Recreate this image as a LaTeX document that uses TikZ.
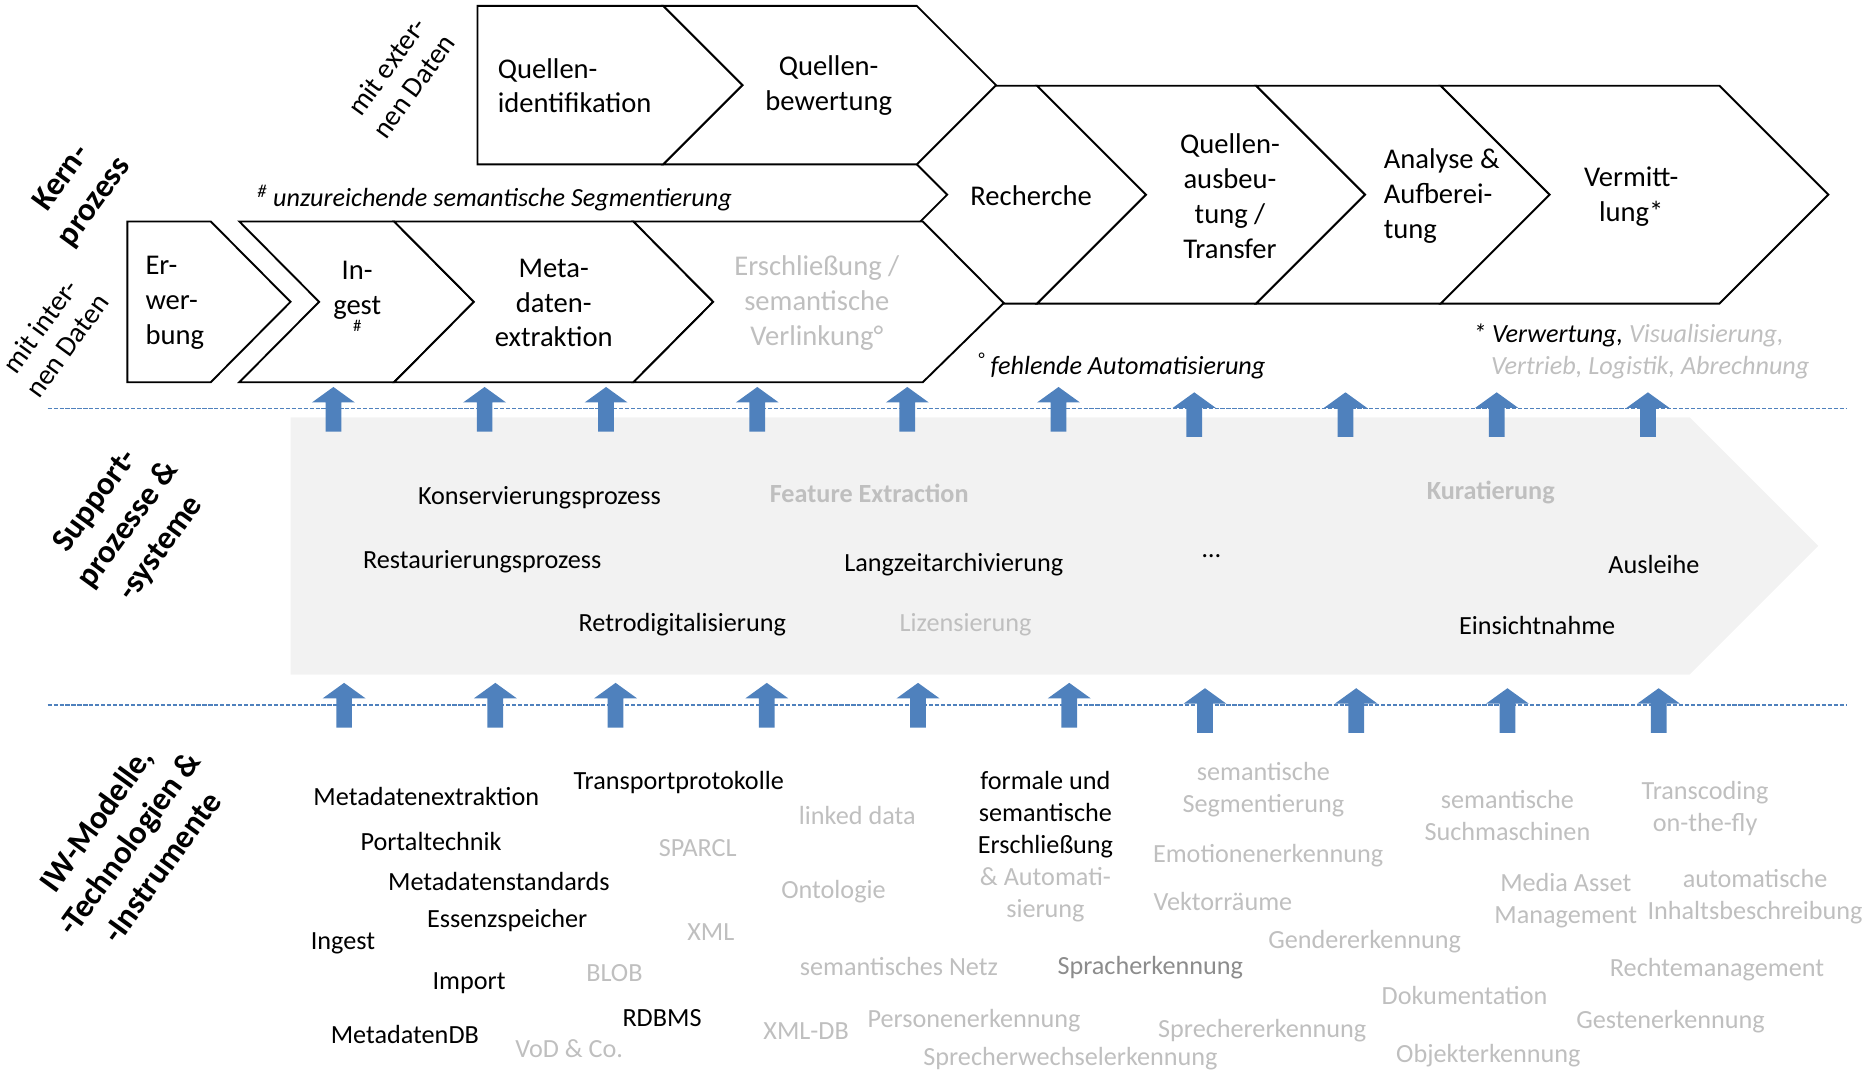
\documentclass[tikz,border=0pt]{standalone}
\usepackage{fontspec}
\setmainfont{Carlito}
\definecolor{arrowblue}{HTML}{4F81BD}
\definecolor{lg}{HTML}{BFBFBF}
\definecolor{mg}{HTML}{8C8C8C}
\definecolor{supportfill}{HTML}{F2F2F2}
\begin{document}
\begin{tikzpicture}[x=1pt,y=-1pt,
  chev/.style={draw=black, line width=1.6pt, fill=white, line join=miter},
  boxtxt/.style={font=\fontsize{24}{29.3}\selectfont, align=center, inner sep=0pt},
  txt/.style={font=\fontsize{22}{26.8}\selectfont, align=center, inner sep=0pt},
  gtxt/.style={txt, text=lg},
  note/.style={font=\fontsize{22}{26.8}\selectfont\itshape, inner sep=0pt, anchor=west},
  sidelbl/.style={font=\fontsize{27.5}{34}\selectfont\bfseries, align=center, rotate=54, inner sep=0pt},
  sidesub/.style={font=\fontsize{24}{28}\selectfont, align=center, rotate=54, inner sep=0pt},
  sepline/.style={arrowblue, dash pattern=on 3.5pt off 1.5pt, line width=1.4pt},
  blockup/.pic={\fill[arrowblue] (-6.6,0) -- (-6.6,-24.5) -- (-18,-24.5) -- (0,-37.5) -- (18,-24.5) -- (6.6,-24.5) -- (6.6,0) -- cycle;}
]
\useasboundingbox (0,0) rectangle (1568,901);

% support process arrow
\fill[supportfill] (244,350.5) -- (1419,350.5) -- (1527,458.5) -- (1419,566.5) -- (244,566.5) -- cycle;

% separators
\coordinate (d1a) at (40,343);
\coordinate (d1b) at (1551,343);
\coordinate (d2a) at (40,592);
\coordinate (d2b) at (1551,592);
\draw[sepline] (d1a) -- (d1b);
\draw[sepline] (d2a) -- (d2b);

% core process: main row
\draw[chev] (704,72) -- (871,72) -- (962.5,163.5) -- (871,255) -- (704,255) -- (795.5,163.5) -- cycle;
\draw[chev] (871,72) -- (1055,72) -- (1146.5,163.5) -- (1055,255) -- (871,255) -- (962.5,163.5) -- cycle;
\draw[chev] (1055,72) -- (1210,72) -- (1301.5,163.5) -- (1210,255) -- (1055,255) -- (1146.5,163.5) -- cycle;
\draw[chev] (1210,72) -- (1444,72) -- (1535.5,163.5) -- (1444,255) -- (1210,255) -- (1301.5,163.5) -- cycle;
% external row
\draw[chev] (557,5) -- (770,5) -- (836.5,71.5) -- (770,138) -- (557,138) -- (623.5,71.5) -- cycle;
\draw[chev] (401,5) -- (557,5) -- (623.5,71.5) -- (557,138) -- (401,138) -- cycle;
% internal row
\draw[chev] (107,186) -- (177,186) -- (244,253.5) -- (177,321) -- (107,321) -- cycle;
\draw[chev] (201,186) -- (331,186) -- (398,253.5) -- (331,321) -- (201,321) -- (268,253.5) -- cycle;
\draw[chev] (331,186) -- (532,186) -- (599,253.5) -- (532,321) -- (331,321) -- (398,253.5) -- cycle;
\draw[chev] (532,186) -- (775,186) -- (843,254.5) -- (775,321) -- (532,321) -- (599,253.5) -- cycle;

% box texts
\node[boxtxt, align=left, anchor=west] (qid) at (418,72) {Quellen-\\identifikation};
\node[boxtxt] (qbw) at (696,72) {Quellen-\\bewertung};
\node[boxtxt] (rech) at (866,164) {Recherche};
\node[boxtxt] (qaus) at (1033,164.5) {Quellen-\\ausbeu-\\tung /\\Transfer};
\node[boxtxt, align=left, anchor=west] (anal) at (1162,164.5) {Analyse \&\\Aufberei-\\tung};
\node[boxtxt] (verm) at (1370,165) {Vermitt-\\lung*};
\node[boxtxt, align=left, anchor=west] (erw) at (122,254.5) {Er-\\wer-\\bung};
\node[boxtxt] (ing) at (300,244) {In-\\gest};
\node[font=\fontsize{14}{14}\selectfont, inner sep=0pt] (inghash) at (300,274) {\#};
\node[boxtxt] (meta) at (465,254.5) {Meta-\\daten-\\extraktion};
\node[boxtxt, text=lg] (ersch) at (686,254.5) {Erschließung /\\semantische\\Verlinkung°};

% footnotes
\node[note] (fn1) at (216,166) {\textsuperscript{\#} unzureichende semantische Segmentierung};
\node[note] (fn2) at (821,307) {\textsuperscript{°} fehlende Automatisierung};
\node[note] (fn3) at (1237,282) {* Verwertung, \textcolor{lg}{Visualisierung,}};
\node[note, text=lg] (fn4) at (1252,309) {Vertrieb, Logistik, Abrechnung};

% side labels
\node[sidelbl] (lkern) at (66,160) {Kern-\\prozess};
\node[sidesub] (lext) at (336,64) {mit exter-\\nen Daten};
\node[sidesub] (lint) at (45,282) {mit inter-\\nen Daten};
\node[sidelbl] (lsup) at (108,441) {Support-\\prozesse \&\\-systeme};
\node[sidelbl] (liw) at (108,708) {IW-Modelle,\\-Technologien \&\\-Instrumente};

% block arrows
\foreach \xx in {280,407,509,636,762,889} {\pic at (\xx,362.5) {blockup};}
\foreach \xx in {1003,1130,1257,1384} {\pic at (\xx,367) {blockup};}
\foreach \xx in {289,416,517,644,771,898} {\pic at (\xx,611) {blockup};}
\foreach \xx in {1012,1139,1266,1393} {\pic at (\xx,615.5) {blockup};}

% support processes
\node[txt] (s1) at (453,418) {Konservierungsprozess};
\node[gtxt, font=\fontsize{22}{26.8}\selectfont\bfseries] (s2) at (730,414) {Feature Extraction};
\node[gtxt, font=\fontsize{22}{26.8}\selectfont\bfseries] (s3) at (1252,414) {Kuratierung};
\node[txt] (s4) at (405,472) {Restaurierungsprozess};
\node[txt] (s5) at (801,474) {Langzeitarchivierung};
\node[txt] (s6) at (1017.5,467) {…};
\node[txt] (s7) at (1389,474) {Ausleihe};
\node[txt] (s8) at (573,525) {Retrodigitalisierung};
\node[gtxt] (s9) at (811,525) {Lizensierung};
\node[txt] (s10) at (1291,525) {Einsichtnahme};

% technologies
\node[txt] (t1) at (358,669) {Metadatenextraktion};
\node[txt] (t2) at (570,657) {Transportprotokolle};
\node[txt] (t3) at (362,707) {Portaltechnik};
\node[txt] (t4) at (419,740) {Metadatenstandards};
\node[txt] (t5) at (426,773) {Essenzspeicher};
\node[txt] (t6) at (288,792) {Ingest};
\node[txt] (t7) at (394,826) {Import};
\node[txt] (t8) at (556,855) {RDBMS};
\node[txt] (t9) at (340,869) {MetadatenDB};
\node[txt] (t10) at (878,684) {formale und\\semantische\\Erschließung};
\node[gtxt] (t11) at (878,751.5) {\& Automati-\\sierung};
\node[gtxt] (t12) at (720,685) {linked data};
\node[gtxt] (t13) at (586,712) {SPARCL};
\node[gtxt] (t14) at (700,749) {Ontologie};
\node[gtxt] (t15) at (597,783) {XML};
\node[gtxt] (t16) at (516,817) {BLOB};
\node[gtxt] (t17) at (755,812) {semantisches Netz};
\node[gtxt] (t18) at (677,866) {XML-DB};
\node[gtxt] (t19) at (478,881) {VoD \& Co.};
\node[gtxt] (t20) at (818,857) {Personenerkennung};
\node[gtxt] (t21) at (899,889) {Sprecherwechselerkennung};
\node[gtxt] (t22) at (1061,663.5) {semantische\\Segmentierung};
\node[gtxt] (t23) at (1065,719) {Emotionenerkennung};
\node[gtxt] (t24) at (1027,757) {Vektorräume};
\node[txt, text=mg] (t25) at (966,813) {Spracherkennung};
\node[gtxt] (t26) at (1146,791) {Gendererkennung};
\node[gtxt] (t27) at (1060,866) {Sprechererkennung};
\node[gtxt] (t28) at (1266,685) {semantische\\Suchmaschinen};
\node[gtxt] (t29) at (1315,756.5) {Media Asset\\Management};
\node[gtxt] (t30) at (1230,836) {Dokumentation};
\node[gtxt] (t31) at (1250,887) {Objekterkennung};
\node[gtxt] (t32) at (1432,679) {Transcoding\\on-the-fly};
\node[gtxt] (t33) at (1474,753) {automatische\\Inhaltsbeschreibung};
\node[gtxt] (t34) at (1442,814) {Rechtemanagement};
\node[gtxt] (t35) at (1403,858) {Gestenerkennung};
\end{tikzpicture}
\end{document}
